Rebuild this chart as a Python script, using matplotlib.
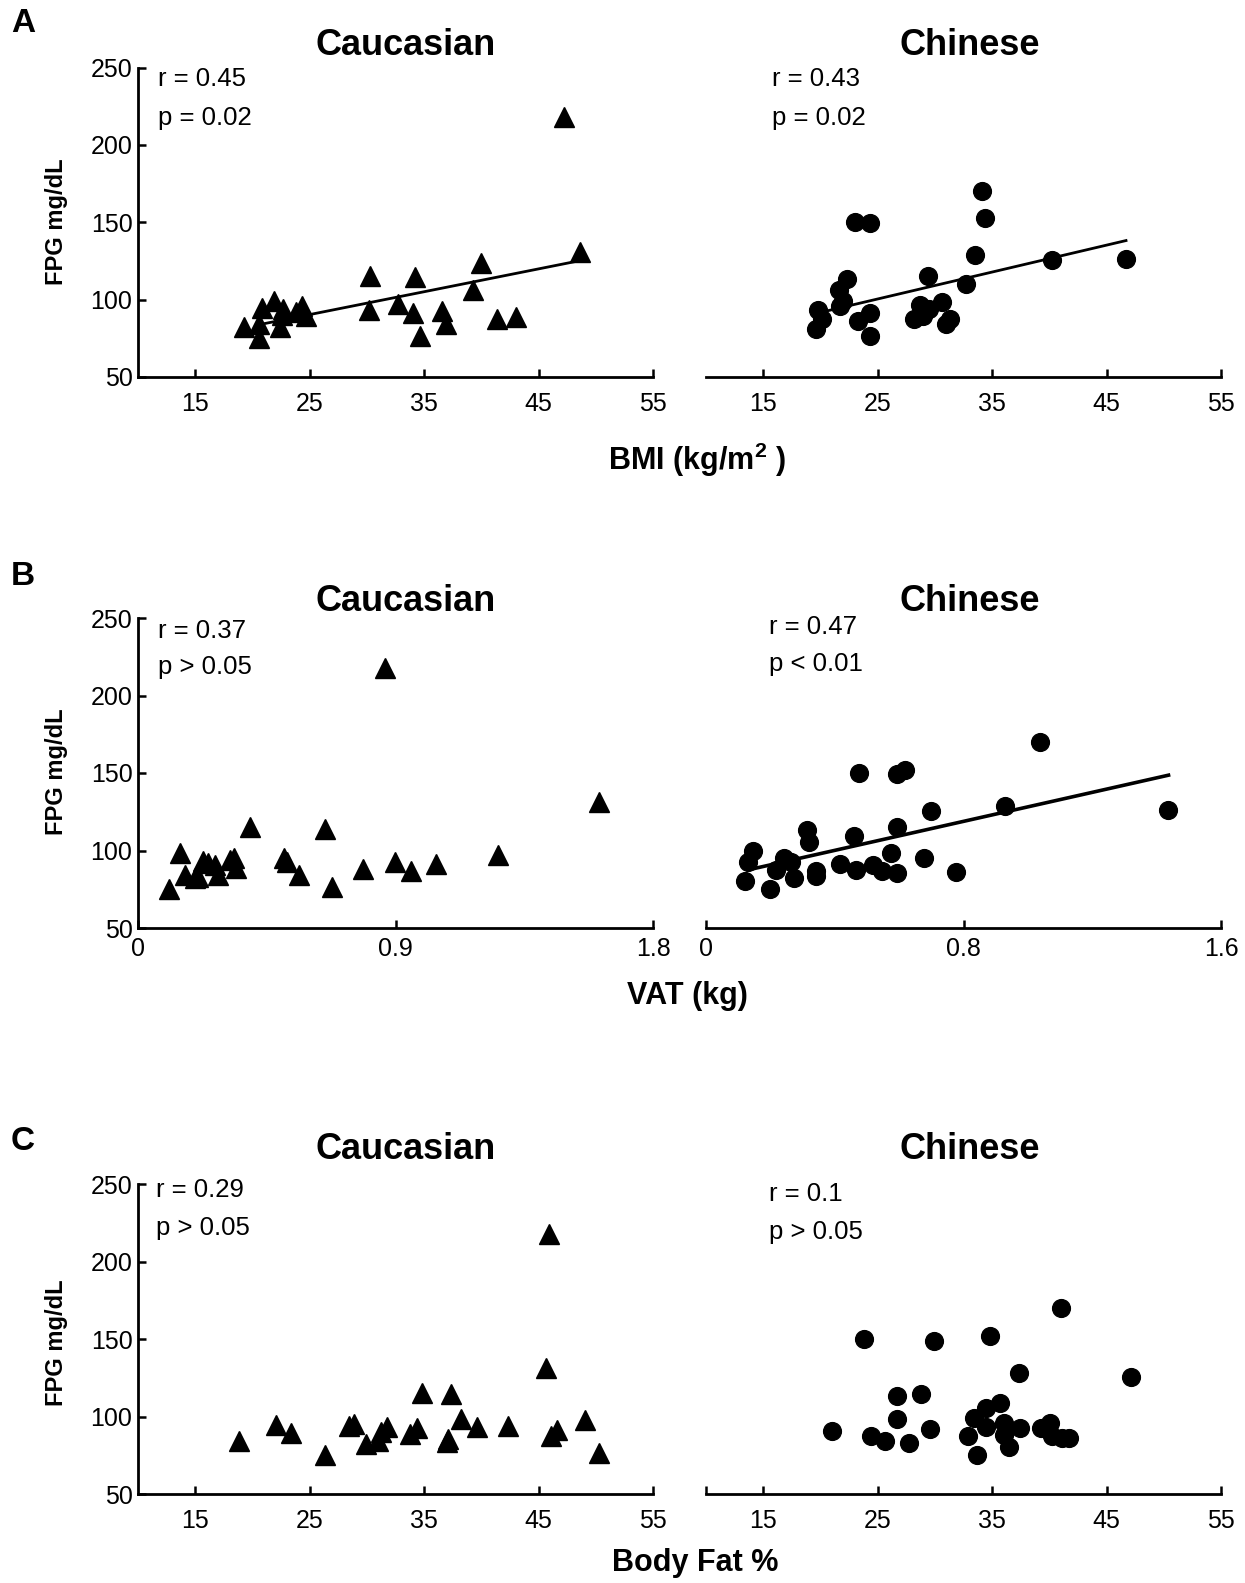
import matplotlib
matplotlib.use("Agg")
import matplotlib.pyplot as plt

plt.rcParams['font.family'] = ['Liberation Sans', 'DejaVu Sans']
plt.rcParams['mathtext.fontset'] = 'custom'
plt.rcParams['mathtext.rm'] = 'Liberation Sans:bold'
plt.rcParams['mathtext.bf'] = 'Liberation Sans:bold'

# ---- data ----
bmi_cau = [47.2, 48.6, 40.0, 39.25, 34.2, 30.3, 30.2, 32.7, 34.0, 34.6, 36.6, 36.9, 41.4,
           43.0, 19.3, 20.6, 20.6, 20.8, 21.9, 22.4, 22.7, 23.8, 24.3, 24.7, 22.6]
fpg_bmi_cau = [218, 131, 123.7, 106, 114.7, 115.5, 93.3, 97.5, 91.6, 76.5, 92.6, 84, 87.7,
               88.8, 82.6, 75.3, 84, 94.8, 99, 82, 94.1, 92, 95.8, 89.4, 90]
bmi_chi = [34.1, 34.4, 23.0, 24.3, 33.5, 40.2, 46.7, 22.3, 29.4, 32.7, 21.65, 21.95, 21.7,
           19.8, 20.1, 19.6, 24.3, 23.3, 24.35, 28.7, 29.5, 28.2, 29.0, 30.6, 31.3, 31.0]
fpg_bmi_chi = [170.4, 152.6, 150.5, 149.4, 128.6, 125.8, 126.5, 113.6, 115.5, 109.8, 106, 99,
               95.8, 93.3, 87.7, 80.8, 91.6, 86.2, 76.2, 96.3, 93.7, 87.3, 89.4, 98.6, 87.7, 84.1]

vat_cau = [0.863, 1.613, 0.391, 0.652, 0.146, 1.258, 0.897, 1.040, 0.953, 0.785, 0.677, 0.110,
           0.511, 0.522, 0.561, 0.163, 0.198, 0.227, 0.245, 0.268, 0.280, 0.323, 0.335, 0.344, 0.21]
fpg_vat_cau = [218, 131, 115, 114, 98.3, 97.2, 92.5, 91.2, 87, 88.2, 76.4, 75.4, 95, 92.9, 84,
               84, 82.2, 93.4, 91.8, 90.8, 84, 94, 95, 88.6, 83]
vat_chi = [1.039, 0.474, 0.592, 0.617, 0.929, 1.435, 0.698, 0.592, 0.459, 0.313, 0.320, 0.147,
           0.129, 0.120, 0.200, 0.243, 0.264, 0.216, 0.273, 0.341, 0.341, 0.415, 0.467, 0.520,
           0.546, 0.592, 0.575, 0.677, 0.778]
fpg_vat_chi = [169.7, 149.7, 149.3, 152.2, 128.4, 126.3, 125.2, 115.1, 109.3, 113.4, 105.5,
               99.7, 92.6, 80.4, 75.4, 95, 92.9, 87.5, 82.2, 86.5, 83.3, 91.6, 87.5, 90.7, 86.5,
               85.4, 98.3, 94.9, 86.3]

fat_cau = [45.9, 45.65, 34.85, 37.35, 18.8, 22.1, 23.35, 26.3, 28.4, 28.9, 29.9, 31.0, 31.2,
           31.8, 33.8, 34.4, 37.0, 37.1, 38.2, 39.65, 42.35, 46.1, 46.6, 49.05, 50.3]
fpg_fat_cau = [218, 131.5, 115.4, 114.8, 84.7, 94.6, 89.7, 75.7, 94.4, 95.5, 82.8, 84.3, 90.1,
               93.3, 89.1, 92.9, 83.7, 86, 98.7, 93.6, 94, 88, 91.8, 97.8, 76.4]
fat_chi = [41.0, 23.8, 29.9, 34.8, 37.35, 47.1, 26.7, 28.75, 35.7, 34.5, 26.7, 21.05, 24.4,
           25.6, 27.7, 29.6, 33.4, 32.9, 34.5, 33.7, 36.0, 36.0, 36.5, 37.4, 39.3, 40.1, 40.2,
           41.1, 41.7]
fpg_fat_chi = [170.1, 150.2, 149.1, 152.3, 128.3, 125.7, 113.3, 115, 109, 105.8, 98.7, 91.2,
               87.5, 84.3, 83.3, 92.3, 99.4, 88, 93.6, 75.7, 96.1, 88.6, 80.7, 92.7, 92.9, 96.1,
               88, 86.5, 86.5]

# regression line end points
fit_bmi_cau_x, fit_bmi_cau_y = [20.7, 48.6], [84, 125.2]
fit_bmi_chi_x, fit_bmi_chi_y = [20.5, 46.7], [92.6, 138.2]
fit_vat_chi_x, fit_vat_chi_y = [0.131, 1.437], [87.5, 148.6]

stats = {
    'bmi_cau': ('r = 0.45', 'p = 0.02'), 'bmi_chi': ('r = 0.43', 'p = 0.02'),
    'vat_cau': ('r = 0.37', 'p > 0.05'), 'vat_chi': ('r = 0.47', 'p < 0.01'),
    'fat_cau': ('r = 0.29', 'p > 0.05'), 'fat_chi': ('r = 0.1', 'p > 0.05'),
}

y_ticks = [50, 100, 150, 200, 250]
bmi_ticks = [15, 25, 35, 45, 55]
vat_cau_ticks, vat_cau_labels = [0, 0.9, 1.8], ['0', '0.9', '1.8']
vat_chi_ticks, vat_chi_labels = [0, 0.8, 1.6], ['0', '0.8', '1.6']

# ---- layout ----
W, H = 1245, 1583
fig = plt.figure(figsize=(W / 100, H / 100), dpi=100)


def box(l, r, t, b):
    return [l / W, 1 - b / H, (r - l) / W, (b - t) / H]


def ftext(x, y, s, **kw):
    fig.text(x / W, 1 - y / H, s, **kw)


def setup(ax, left_axis, xlim, xticks, xlabels, pad):
    ax.set_ylim(50, 250)
    ax.set_xlim(*xlim)
    for s in ['top', 'right']:
        ax.spines[s].set_visible(False)
    ax.spines['bottom'].set_linewidth(2)
    ax.spines['left'].set_linewidth(2)
    ax.set_xticks(xticks)
    ax.set_xticklabels(xlabels)
    ax.tick_params(axis='x', direction='in', length=6, width=1.8, labelsize=18, pad=pad)
    if left_axis:
        ax.set_yticks(y_ticks)
        ax.tick_params(axis='y', direction='in', length=6, width=1.8, labelsize=18, pad=4)
    else:
        ax.spines['left'].set_visible(False)
        ax.set_yticks([])


# axes top, axes bottom, letter, letter y, title y, ylabel y
rows = [
    (67.6, 377, 'A', 24, 45.5, 222),
    (618, 928, 'B', 576, 601.5, 772),
    (1184.4, 1494.4, 'C', 1142, 1149.5, 1343),
]

LX = (138, 653)
RX = (706, 1221)

panels = [
    # row, left?, x, y, marker, fit, stats key, xlim, ticks, labels, pad, stat x, stat y
    (0, True, bmi_cau, fpg_bmi_cau, '^', (fit_bmi_cau_x, fit_bmi_cau_y), 'bmi_cau',
     (10, 55), bmi_ticks, [str(t) for t in bmi_ticks], 10.5, 158.5, (79.5, 117.5)),
    (0, False, bmi_chi, fpg_bmi_chi, 'o', (fit_bmi_chi_x, fit_bmi_chi_y), 'bmi_chi',
     (10, 55), bmi_ticks, [str(t) for t in bmi_ticks], 10.5, 771.5, (79.5, 117.5)),
    (1, True, vat_cau, fpg_vat_cau, '^', None, 'vat_cau',
     (0, 1.8), vat_cau_ticks, vat_cau_labels, 6.5, 158.5, (631.5, 667)),
    (1, False, vat_chi, fpg_vat_chi, 'o', (fit_vat_chi_x, fit_vat_chi_y), 'vat_chi',
     (0, 1.6), vat_chi_ticks, vat_chi_labels, 6.5, 769.4, (627.5, 664)),
    (2, True, fat_cau, fpg_fat_cau, '^', None, 'fat_cau',
     (10, 55), bmi_ticks, [str(t) for t in bmi_ticks], 10.5, 156.5, (1190, 1227.5)),
    (2, False, fat_chi, fpg_fat_chi, 'o', None, 'fat_chi',
     (10, 55), bmi_ticks, [str(t) for t in bmi_ticks], 10.5, 769.4, (1194, 1232.5)),
]

for (row, is_left, xs, ys, mk, fit, key, xlim, ticks, labels, pad, sx, sy) in panels:
    top, bottom = rows[row][0], rows[row][1]
    l, r = LX if is_left else RX
    ax = fig.add_axes(box(l, r, top, bottom))
    setup(ax, is_left, xlim, ticks, labels, pad)
    ms = 14.5 if mk == '^' else 12.8
    ax.plot(xs, ys, linestyle='none', marker=mk, color='black', markersize=ms,
            clip_on=False, zorder=3)
    if fit is not None:
        ax.plot(fit[0], fit[1], color='black', linewidth=2 if row == 0 else 2.6, zorder=2)
    ftext(sx, sy[0], stats[key][0], fontsize=18.5, ha='left', va='center')
    ftext(sx, sy[1], stats[key][1], fontsize=18.5, ha='left', va='center')
    if row == 2 and not is_left:
        ax.set_xticks([10], minor=True)
        ax.tick_params(axis='x', which='minor', direction='in', length=6, width=1.8)

for top, bottom, letter, lty, ty, ly in rows:
    ftext(23, lty, letter, fontsize=24, fontweight='bold', ha='center', va='center')
    ftext(406, ty, 'Caucasian', fontsize=26, fontweight='bold', ha='center', va='center')
    ftext(970, ty, 'Chinese', fontsize=26, fontweight='bold', ha='center', va='center')
    ftext(56, ly, 'FPG mg/dL', fontsize=17, fontweight='bold', rotation=90,
          ha='center', va='center')

ftext(697, 460, r'BMI (kg/m$^{2}$ )', fontsize=22, fontweight='bold', ha='center', va='center')
ftext(687, 996, 'VAT (kg)', fontsize=22, fontweight='bold', ha='center', va='center')
ftext(695, 1563, 'Body Fat %', fontsize=22, fontweight='bold', ha='center', va='center')

fig.savefig('out.png', dpi=100)
